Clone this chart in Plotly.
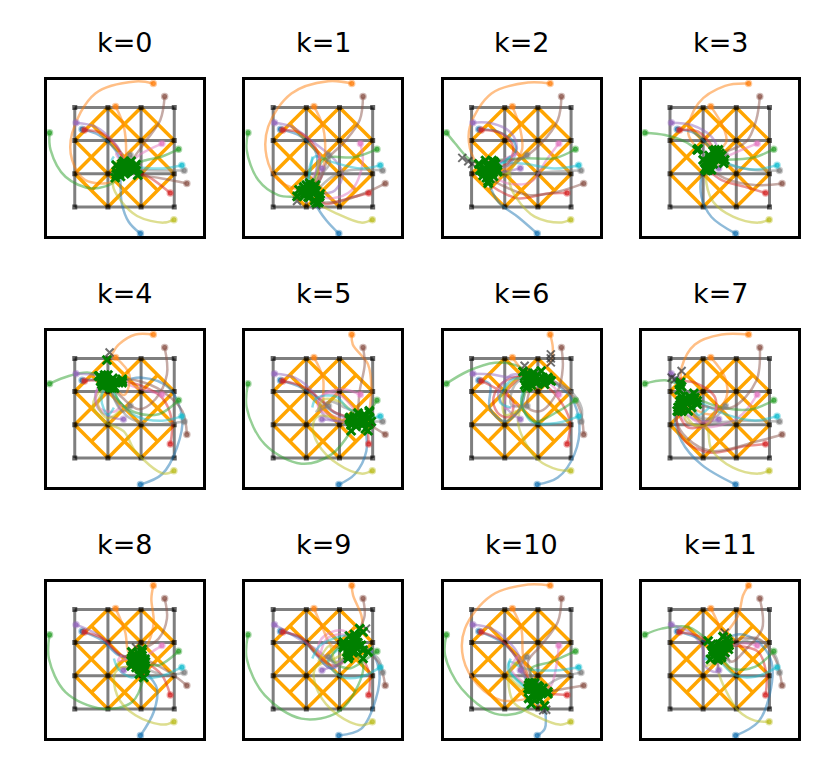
import plotly.graph_objects as go
from plotly.subplots import make_subplots

TITLES = [f"k={k}" for k in range(12)]
TAB10 = ["31,119,180", "255,127,14", "44,160,44", "214,39,40", "148,103,189",
         "140,86,75", "227,119,194", "127,127,127", "188,189,34", "23,190,207"]

START_X = [1.98, 2.37, -0.76, 2.88, 0.04, 3.38, 2.63, 3.30, 2.99, 3.23,
           0.22, 1.23, 3.13, 0.29, 1.47, 2.71, 1.42, 1.67, 1.36, 1.18]
START_Y = [-0.80, 3.72, 2.24, 0.42, 2.54, 0.71, 1.91, 1.10, -0.38, 1.26,
           2.34, 3.03, 1.74, 2.32, 1.17, 3.33, 1.62, 1.57, 1.42, 1.52]
# the start dots of the other paths do not show in the picture
DOTTED = [0, 1, 2, 3, 4, 5, 6, 7, 8, 9, 10, 11, 12, 13, 14, 15, 17]

GRID_VALUES = [0, 1, 2, 3]
ORANGE_SEGS = [
    ((0, 2), (1, 3)), ((1, 2), (0.5, 2.5)), ((1, 3), (2, 2)), ((2, 3), (1, 2)),
    ((2, 3), (3, 2)), ((2, 2), (2.5, 2.5)), ((0, 2), (1, 1)), ((1, 2), (0, 1)),
    ((1, 2), (2, 1)), ((2, 2), (1, 1)), ((2, 2), (3, 1)), ((3, 2), (2, 1)),
    ((0, 1), (1, 0)), ((1, 1), (0.5, 0.5)), ((1, 1), (2, 0)), ((2, 1), (1, 0)),
    ((2, 0), (3, 1)), ((2, 1), (2.5, 0.5)),
]

# waypoints between the start and the end of each of the 20 paths
WAYS_K0 = [
    [(1.63, -0.45), (1.42, 0.1), (1.38, 0.7)],
    [(1.83, 3.78), (0.62, 3.42), (-0.08, 2.22), (-0.08, 1.42), (0.32, 0.81), (1.12, 0.76)],
    [(-0.73, 1.72), (-0.28, 0.91), (0.52, 0.56), (1.18, 0.76)],
    [(2.23, 0.91)], [(0.62, 2.42), (1.12, 2.02), (1.42, 1.6)], [(2.63, 0.86)],
    [(2.03, 1.62)], [(2.53, 1.1)],
    [(2.68, -0.47), (1.88, -0.27), (1.38, 0.2), (1.15, 0.66)],
    [(2.63, 1.16)], [(0.72, 2.17), (1.22, 1.72)], [(1.48, 2.42), (1.55, 1.6)],
    [(2.63, 1.52), (2.1, 1.4)], [(0.82, 2.22), (1.33, 1.72)], [],
    [(2.58, 2.62), (2.13, 1.97)], [(1.25, 1.6)], [(1.72, 1.45)], [(1.25, 1.35)],
    [(1.12, 1.4)],
]
ENDS_K0 = [(1.38, 0.92), (1.3, 1.02), (1.25, 0.98), (1.78, 1.08), (1.48, 1.38),
           (1.9, 0.96), (1.55, 1.25), (1.82, 1.12), (1.22, 0.88), (1.83, 1.2),
           (1.42, 1.3), (1.52, 1.3), (1.85, 1.28), (1.46, 1.3), (1.45, 1.12),
           (1.7, 1.38), (1.6, 1.18), (1.68, 1.27), (1.35, 1.1), (1.25, 1.26)]

WAYS_K1 = [
    [(1.6, -0.4), (1.3, 0.05)],
    [(1.66, 3.79), (0.55, 3.42), (-0.15, 2.42), (-0.2, 1.52), (0.15, 0.81)],
    [(-0.8, 1.72), (-0.45, 0.81), (0.15, 0.36)],
    [(2.26, 0.26), (1.56, 0.1)],
    [(0.55, 2.42), (1.26, 1.92), (1.86, 1.42), (2.1, 1.0), (1.86, 0.5)],
    [(2.86, 0.46), (1.96, 0.16)],
    [(2.7, 1.32), (2.36, 0.5), (1.76, 0.26)],
    [(2.26, 1.1), (1.76, 0.9)],
    [(2.66, -0.47), (1.9, -0.19)],
    [(2.66, 1.16), (1.76, 1.36), (1.26, 1.52), (1.1, 1.2)],
    [(0.85, 2.12), (1.3, 1.62), (1.26, 0.9)],
    [(1.5, 2.42), (1.56, 1.52), (1.4, 0.81)],
    [(2.46, 1.5), (1.56, 1.46), (1.26, 0.9)],
    [(0.85, 2.22), (1.36, 1.62), (1.36, 0.9)],
    [(1.45, 0.9)],
    [(2.61, 2.62), (2.16, 1.97), (1.66, 1.46), (1.4, 0.81)],
    [(1.3, 1.1)], [(1.7, 1.3), (1.2, 0.7)], [(1.3, 0.9)], [(1.1, 1.0)],
]
ENDS_K1 = [(1.25, 0.2), (0.78, 0.52), (0.72, 0.32), (1.38, 0.3), (1.42, 0.4),
           (1.38, 0.14), (1.4, 0.32), (1.3, 0.48), (1.3, 0.12), (1.1, 0.72),
           (1.12, 0.62), (1.25, 0.6), (1.18, 0.58), (1.28, 0.66), (1.2, 0.46),
           (1.0, 0.66), (0.95, 0.42), (1.05, 0.3), (0.86, 0.44), (0.92, 0.6)]

WAYS_K2 = [
    [(1.4, -0.3), (0.8, 0.16)],
    [(1.7, 3.75), (0.6, 3.42), (-0.05, 2.42), (-0.05, 1.77)],
    [(-0.5, 1.92), (-0.1, 1.47)],
    [(2.3, 0.41), (1.4, 0.26), (0.8, 0.51)],
    [(0.6, 2.52), (1.2, 2.22), (1.36, 1.72), (1.05, 1.22)],
    [(2.6, 0.46), (1.7, 0.36), (0.9, 0.66)],
    [(2.26, 1.42), (1.8, 0.76), (1.1, 0.71)],
    [(2.4, 1.06), (1.5, 1.0)],
    [(2.65, -0.47), (1.9, -0.29), (1.36, 0.26), (1.15, 0.71), (1.15, 1.0)],
    [(2.5, 1.16), (1.6, 1.3)],
    [(0.8, 2.27), (1.3, 1.92), (1.3, 1.62)],
    [(1.45, 2.42), (1.52, 1.72), (1.2, 1.22)],
    [(2.5, 1.47), (1.6, 1.47)],
    [(0.9, 2.22), (1.25, 1.82), (1.1, 1.32)],
    [(1.2, 1.1)],
    [(2.6, 2.62), (2.1, 1.92), (1.5, 1.47)],
    [(1.0, 1.45)], [(1.1, 1.25)], [(1.0, 0.95)], [(0.9, 1.3)],
]
ENDS_K2 = [(0.5, 0.78), (0.25, 1.12), (0.22, 1.3), (0.5, 0.72), (0.62, 1.22),
           (0.55, 0.85), (0.66, 0.92), (0.78, 1.06), (0.62, 1.0), (0.68, 1.36),
           (0.72, 1.3), (0.78, 1.12), (0.62, 1.4), (0.55, 1.18), (0.45, 1.0),
           (0.42, 1.4), (0.35, 0.95), (0.45, 1.25), (0.3, 1.1), (0.72, 1.18)]

WAYS_K3 = [
    [(1.25, -0.3), (0.95, 0.3), (0.95, 0.92)],
    [(1.66, 3.65), (0.85, 3.12), (0.55, 2.22)],
    [(-0.15, 2.17), (0.45, 1.97)],
    [(2.26, 0.61), (1.56, 0.81)],
    [(0.65, 2.47), (1.25, 2.12)],
    [(2.56, 0.66), (1.66, 0.86)],
    [(2.16, 1.72)], [(2.46, 1.12)],
    [(2.66, -0.47), (1.9, -0.29), (1.3, 0.16), (1.1, 0.71)],
    [(2.56, 1.13), (1.86, 1.27)],
    [(0.75, 2.22)], [(1.6, 2.42), (1.7, 1.97)], [(2.55, 1.5)], [(0.85, 2.27)],
    [], [(2.6, 2.62), (2.3, 1.97)], [(1.4, 1.5)], [(1.7, 1.45)], [(1.5, 1.2)],
    [(1.1, 1.45)],
]
ENDS_K3 = [(1.05, 1.15), (0.85, 1.75), (0.82, 1.72), (1.15, 1.12), (1.46, 1.72),
           (1.25, 1.12), (1.5, 1.42), (1.62, 1.32), (1.1, 1.1), (1.46, 1.5),
           (1.3, 1.68), (1.42, 1.68), (1.65, 1.42), (1.36, 1.72), (1.3, 1.3),
           (1.5, 1.62), (1.18, 1.55), (1.56, 1.55), (1.0, 1.42), (1.12, 1.35)]

WAYS_K4 = [
    [(2.63, -0.49), (3.08, 0.31), (3.24, 1.22), (2.83, 2.12), (2.03, 2.42)],
    [(1.83, 3.72), (1.33, 3.42), (1.08, 3.07)],
    [(-0.18, 2.47), (0.42, 2.57)],
    [(2.93, 1.12), (2.63, 1.82), (2.03, 2.17)],
    [(0.47, 2.52)],
    [(3.24, 1.42), (2.63, 2.02), (1.93, 2.32)],
    [(2.03, 2.07)],
    [(2.28, 1.02), (1.63, 1.22), (1.23, 1.72)],
    [(2.68, -0.47), (1.83, 0.2), (1.48, 0.8), (0.9, 1.1), (0.55, 1.6)],
    [(2.63, 1.12), (1.83, 1.27), (1.33, 1.72)],
    [(0.5, 2.36)], [(1.65, 2.5), (1.5, 1.9)],
    [(2.53, 1.32), (1.83, 1.37), (1.33, 1.72)],
    [(0.55, 2.34)],
    [(1.2, 1.2), (0.72, 1.47), (0.62, 1.92)],
    [(2.78, 2.52), (2.43, 1.77), (1.93, 1.47), (1.43, 1.82)],
    [(1.2, 1.4), (0.75, 1.5), (0.65, 2.0)],
    [(1.45, 1.4), (1.2, 1.75)],
    [(1.0, 1.2), (0.7, 1.6)],
    [(1.0, 1.3), (0.8, 1.8)],
]
ENDS_K4 = [(1.33, 2.27), (0.97, 2.95), (0.72, 2.47), (1.43, 2.32), (0.75, 2.47),
           (1.43, 2.37), (1.43, 2.27), (1.08, 2.12), (0.85, 2.15), (1.08, 2.15),
           (0.78, 2.32), (1.2, 2.1), (1.18, 2.15), (0.82, 2.38), (0.82, 2.22),
           (1.13, 2.12), (0.9, 2.42), (1.0, 2.5), (0.95, 2.2), (1.02, 2.32)]

WAYS_K5 = [
    [(2.46, -0.49), (2.81, 0.21)],
    [(2.4, 3.42), (2.86, 2.82), (2.96, 2.12)],
    [(-0.8, 1.52), (-0.25, 0.41), (0.85, -0.17), (1.76, 0.11)],
    [], [(0.65, 2.42), (1.25, 1.92), (1.5, 1.32), (1.86, 1.12)], [],
    [(2.06, 2.07), (1.46, 1.87), (1.36, 1.52), (1.96, 1.22)], [],
    [(2.66, -0.47), (1.96, -0.19), (1.36, 0.41), (1.2, 1.0), (1.35, 1.25), (1.9, 1.2)],
    [],
    [(0.85, 2.12), (1.46, 1.72), (1.76, 1.42)],
    [(1.5, 2.42), (1.56, 1.52), (2.06, 1.12)],
    [],
    [(0.9, 2.15), (1.5, 1.7), (1.85, 1.38)],
    [(1.86, 1.12)],
    [(2.76, 2.82), (2.61, 2.02)],
    [(1.5, 1.9), (2.0, 1.9)], [(1.3, 1.4), (1.7, 1.7), (2.2, 1.5)],
    [(1.5, 1.75), (2.0, 1.7)], [(1.3, 1.8), (1.9, 1.85), (2.25, 1.5)],
]
ENDS_K5 = [(2.78, 0.88), (2.9, 1.42), (2.35, 0.82), (2.86, 0.82), (2.3, 1.15),
           (2.88, 1.02), (2.42, 1.18), (2.96, 1.1), (2.35, 1.0), (2.9, 1.2),
           (2.3, 1.2), (2.35, 1.08), (2.9, 1.38), (2.32, 1.22), (2.42, 1.05),
           (2.56, 1.35), (2.6, 1.22), (2.7, 1.26), (2.68, 1.08), (2.76, 1.3)]

WAYS_K6 = [
    [(2.6, -0.59), (3.1, 0.11), (3.25, 1.02), (3.0, 1.82)],
    [(2.45, 3.32), (2.4, 2.92)],
    [(-0.1, 2.62), (0.7, 2.87), (1.4, 2.77)],
    [(2.96, 1.12), (2.6, 1.82)],
    [(0.6, 2.52), (1.0, 2.45)],
    [(3.28, 1.42), (3.0, 1.92)],
    [(2.5, 2.12)],
    [(3.32, 1.5), (2.95, 2.05)],
    [(2.6, -0.35), (2.0, -0.05), (1.55, 0.6), (1.4, 1.1), (1.6, 1.9)],
    [(2.6, 1.06), (1.8, 1.1), (1.5, 1.8)],
    [(0.55, 2.22), (0.55, 1.5), (1.0, 1.1), (1.5, 1.55)],
    [],
    [(2.6, 1.4), (1.9, 1.1), (1.5, 1.6)],
    [(0.8, 2.05), (1.25, 1.7), (1.15, 1.25), (0.85, 1.3), (0.65, 1.7), (0.85, 2.2), (1.4, 2.45)],
    [(1.2, 1.35), (0.8, 1.9), (1.2, 2.5)],
    [(2.75, 2.72), (2.6, 2.02), (2.1, 1.42), (1.7, 1.52)],
    [(1.0, 1.5), (1.2, 2.2)],
    [(1.2, 1.6), (1.3, 2.2)],
    [(1.0, 1.3), (1.0, 2.0), (1.4, 2.4)],
    [(0.85, 1.7), (1.2, 2.35)],
]
ENDS_K6 = [(2.4, 2.32), (2.1, 2.62), (1.7, 2.55), (2.2, 2.22), (1.6, 2.45),
           (2.3, 2.42), (2.2, 2.32), (2.35, 2.35), (1.7, 2.15), (1.7, 2.25),
           (1.6, 2.2), (1.55, 2.6), (1.65, 2.12), (1.7, 2.4), (1.7, 2.45),
           (1.8, 2.2), (1.75, 2.5), (1.85, 2.55), (2.0, 2.3), (1.82, 2.38)]

WAYS_K7 = [
    [(0.95, -0.2), (0.35, 0.51), (0.15, 1.32)],
    [(1.56, 3.72), (0.75, 3.42), (0.35, 2.72)],
    [(-0.15, 2.34)],
    [(2.26, 0.36), (1.25, 0.16), (0.45, 0.51), (0.2, 1.12)],
    [],
    [(2.66, 0.51), (1.25, 0.21), (0.5, 0.61), (0.2, 1.12)],
    [(2.06, 1.22), (1.05, 0.92), (0.45, 1.12)],
    [(2.26, 1.12), (1.05, 1.12)],
    [(2.66, -0.47), (1.9, -0.29), (1.25, 0.26), (1.1, 0.92), (0.75, 0.97)],
    [(2.56, 1.13), (1.66, 1.32)],
    [],
    [(1.66, 2.42), (1.7, 1.82), (1.25, 1.32)],
    [(2.46, 1.47), (1.56, 1.52)],
    [(0.75, 2.27), (1.36, 1.82), (1.25, 1.12), (0.55, 0.92)],
    [(0.85, 1.12)],
    [(2.6, 2.32), (1.86, 1.52)],
    [(1.2, 1.1), (0.7, 1.15)], [(1.3, 1.2), (0.8, 1.3)], [(1.1, 1.0), (0.5, 1.1)],
    [(0.85, 1.3)],
]
ENDS_K7 = [(0.3, 1.6), (0.35, 2.15), (0.3, 2.2), (0.25, 1.52), (0.32, 2.28),
           (0.25, 1.4), (0.25, 1.52), (0.55, 1.42), (0.35, 1.5), (0.82, 1.72),
           (0.28, 2.05), (0.65, 1.52), (0.75, 1.82), (0.22, 1.42), (0.35, 1.42),
           (0.82, 1.62), (0.5, 1.75), (0.72, 1.95), (0.45, 1.55), (0.7, 1.7)]

WAYS_K8 = [
    [(2.38, -0.09), (2.48, 0.61)],
    [(2.31, 3.32), (2.38, 2.62), (2.23, 2.02)],
    [(-0.78, 1.52), (-0.28, 0.51), (0.82, 0.01), (1.73, 0.21)],
    [(2.63, 1.02)], [(0.72, 2.22), (1.23, 1.72)], [(2.83, 1.12)], [(2.33, 1.72)],
    [(2.73, 1.02)],
    [(2.68, -0.47), (1.83, -0.19), (1.28, 0.41), (1.23, 1.12)],
    [(2.53, 0.97), (2.03, 0.97)],
    [(0.82, 2.07), (1.33, 1.62)], [(1.52, 2.32), (1.62, 1.72)], [(2.53, 1.32)],
    [(0.85, 2.12), (1.36, 1.65)], [], [(2.78, 2.72), (2.53, 2.12)],
    [(1.3, 1.45)], [(1.72, 1.3)], [(1.25, 1.3)], [(1.32, 1.2), (1.72, 0.95)],
]
ENDS_K8 = [(2.1, 1.15), (2.03, 1.72), (2.08, 0.95), (2.13, 1.42), (1.7, 1.45),
           (2.12, 1.5), (2.03, 1.47), (2.13, 1.22), (1.7, 1.3), (2.03, 1.2),
           (1.75, 1.6), (1.72, 1.72), (2.1, 1.38), (1.75, 1.52), (1.75, 1.35),
           (2.03, 1.8), (1.85, 1.62), (1.95, 1.6), (1.85, 1.25), (1.95, 1.05)]

WAYS_K9 = [
    [(2.66, -0.59), (3.1, 0.31), (3.2, 1.12), (2.96, 1.72)],
    [(2.41, 3.42), (2.66, 2.82)],
    [(-0.8, 1.52), (-0.25, 0.41), (0.85, -0.29), (1.96, -0.09), (2.56, 0.71), (2.71, 1.32)],
    [(2.91, 1.02)],
    [(1.26, 1.82), (1.86, 1.42)],
    [(3.17, 1.42)],
    [(2.06, 2.37), (1.46, 2.12), (1.36, 1.62), (1.76, 1.22)],
    [(3.17, 1.52)],
    [(2.66, -0.49), (1.96, -0.19), (1.36, 0.51), (1.26, 1.22), (1.86, 1.52)],
    [(2.66, 0.97), (2.06, 0.97), (1.66, 1.42)],
    [(0.85, 2.12), (1.3, 1.62), (1.76, 1.22)],
    [(1.5, 2.42), (1.75, 1.92)],
    [(2.76, 1.47), (2.26, 1.22), (1.76, 1.52)],
    [(0.85, 2.15), (1.36, 1.6), (1.85, 1.3)],
    [(2.06, 1.42)],
    [(2.76, 2.82)],
    [(1.6, 2.1), (2.0, 2.25)], [(1.95, 1.3)], [(1.7, 1.9), (1.9, 1.4)], [(1.4, 1.9), (1.9, 2.15)],
]
ENDS_K9 = [(2.66, 1.92), (2.71, 2.32), (2.4, 1.7), (2.71, 1.52), (2.26, 1.62),
           (2.71, 1.77), (2.26, 1.52), (2.86, 1.72), (2.22, 1.72), (2.12, 1.92),
           (2.26, 1.7), (2.12, 1.85), (2.12, 2.02), (2.3, 1.6), (2.36, 1.82),
           (2.61, 2.42), (2.3, 2.2), (2.5, 2.1), (2.42, 1.95), (2.45, 2.25)]

WAYS_K10 = [
    [(2.21, -0.59)],
    [(1.7, 3.75), (0.6, 3.42), (-0.2, 2.42), (-0.25, 1.52), (0.2, 0.71), (0.9, 0.26)],
    [(-0.8, 1.62), (-0.3, 0.61), (0.7, -0.14), (1.5, -0.09)],
    [],
    [(0.6, 2.42), (1.3, 1.82), (1.6, 1.22)],
    [(2.8, 0.61)],
    [(2.56, 1.32), (2.4, 0.71)],
    [(2.6, 0.91)],
    [(2.65, -0.47), (1.9, -0.19), (1.3, 0.16), (1.15, 0.51), (1.15, 1.0)],
    [(2.5, 1.16), (1.6, 1.22), (1.15, 1.42), (1.2, 1.1)],
    [(0.9, 2.02), (1.3, 1.62)],
    [(1.5, 2.42), (1.55, 1.62)],
    [(2.4, 1.42), (1.8, 1.22)],
    [(0.92, 2.05), (1.35, 1.55)],
    [],
    [(2.6, 2.62), (2.1, 1.92), (1.7, 1.42)],
    [(1.2, 1.2)], [(1.45, 1.2)], [(1.15, 1.0)], [(1.1, 1.2)],
]
ENDS_K10 = [(2.2, 0.1), (1.72, 0.32), (1.8, 0.15), (2.3, 0.46), (1.82, 0.78),
            (2.3, 0.52), (2.15, 0.5), (2.15, 0.62), (1.7, 0.62), (1.75, 0.58),
            (1.72, 0.72), (1.75, 0.78), (1.85, 0.72), (1.78, 0.7), (1.82, 0.6),
            (1.9, 0.78), (1.95, 0.55), (2.0, 0.7), (2.05, 0.3), (1.9, 0.4)]

WAYS_K11 = [
    [(2.66, -0.39), (3.0, 0.41), (3.06, 1.42), (2.66, 2.02), (2.1, 2.25)],
    [(2.2, 3.42), (2.06, 2.82)],
    [(-0.25, 2.42), (0.55, 2.47)],
    [(2.91, 1.02), (2.66, 1.72)],
    [(0.62, 2.3), (1.0, 1.8), (1.05, 1.3), (1.4, 1.12)],
    [(3.17, 1.52), (2.66, 2.12)],
    [(2.25, 1.98)],
    [(3.17, 1.62), (2.56, 2.12)],
    [(2.56, -0.35), (2.06, -0.05), (1.66, 0.61), (1.46, 1.12)],
    [(2.56, 0.97), (1.96, 1.02)],
    [(0.75, 2.17)],
    [(1.5, 2.42), (1.56, 1.77), (1.25, 1.42)],
    [(2.56, 1.27), (1.86, 1.22)],
    [(0.85, 2.2)],
    [],
    [(2.78, 2.42), (2.31, 1.82), (1.86, 1.42)],
    [(1.15, 1.5)], [(1.8, 1.4)], [(1.1, 1.3)], [(1.05, 1.5)],
]
ENDS_K11 = [(1.72, 2.12), (1.6, 2.18), (1.15, 2.05), (1.78, 1.92), (1.45, 1.48),
            (1.75, 2.02), (1.72, 1.85), (1.76, 1.8), (1.46, 1.5), (1.46, 1.52),
            (1.3, 1.87), (1.22, 1.5), (1.56, 1.62), (1.25, 1.95), (1.4, 1.52),
            (1.66, 1.7), (1.35, 1.75), (1.55, 1.95), (1.3, 1.6), (1.28, 1.7)]

ALL_WAYS = [WAYS_K0, WAYS_K1, WAYS_K2, WAYS_K3, WAYS_K4, WAYS_K5,
            WAYS_K6, WAYS_K7, WAYS_K8, WAYS_K9, WAYS_K10, WAYS_K11]
ALL_ENDS = [ENDS_K0, ENDS_K1, ENDS_K2, ENDS_K3, ENDS_K4, ENDS_K5,
            ENDS_K6, ENDS_K7, ENDS_K8, ENDS_K9, ENDS_K10, ENDS_K11]

# more green crosses inside each cluster, which reads as a solid blob
FILLS = [
    [(1.5, 1.15), (1.4, 1.2), (1.6, 1.1), (1.55, 1.05), (1.7, 1.15), (1.35, 1.0), (1.62, 1.25), (1.5, 1.0)],
    [(1.1, 0.46), (1.0, 0.5), (1.2, 0.4), (1.1, 0.3), (1.25, 0.5), (0.95, 0.35), (1.15, 0.55), (1.05, 0.42), (0.88, 0.5)],
    [(0.5, 1.07), (0.4, 1.15), (0.6, 1.1), (0.5, 0.95), (0.55, 1.25), (0.35, 1.05), (0.65, 1.05), (0.45, 0.88)],
    [(1.2, 1.47), (1.3, 1.5), (1.4, 1.45), (1.25, 1.35), (1.2, 1.25), (1.1, 1.2), (1.35, 1.6), (1.45, 1.55)],
    [(1.0, 2.32), (0.9, 2.3), (1.1, 2.3), (0.95, 2.4), (1.05, 2.22), (0.85, 2.2), (1.2, 2.3), (1.15, 2.4), (0.8, 2.3), (0.9, 2.5)],
    [(2.5, 1.1), (2.6, 1.1), (2.7, 1.15), (2.8, 1.1), (2.5, 0.95), (2.7, 1.0), (2.45, 1.25), (2.85, 1.2)],
    [(1.9, 2.38), (1.8, 2.3), (1.95, 2.45), (1.75, 2.35), (2.05, 2.38), (2.15, 2.42), (1.85, 2.45), (1.95, 2.25), (2.25, 2.38)],
    [(0.35, 1.75), (0.6, 1.75), (0.3, 1.7), (0.5, 1.65), (0.7, 1.8), (0.4, 1.6), (0.6, 1.85), (0.35, 1.85)],
    [(1.87, 1.5), (1.8, 1.4), (1.95, 1.4), (1.9, 1.3), (1.85, 1.55), (1.98, 1.5), (1.9, 1.7), (1.95, 1.2)],
    [(2.42, 1.95), (2.35, 1.9), (2.5, 1.85), (2.4, 2.05), (2.55, 2.0), (2.3, 2.0), (2.45, 1.75), (2.6, 1.9), (2.3, 1.85), (2.5, 2.2)],
    [(1.97, 0.55), (1.9, 0.5), (2.05, 0.5), (1.95, 0.62), (1.85, 0.6), (2.05, 0.65), (2.0, 0.42), (1.9, 0.3)],
    [(1.48, 1.78), (1.4, 1.7), (1.55, 1.85), (1.45, 1.6), (1.6, 1.75), (1.35, 1.85), (1.5, 1.95), (1.65, 1.85), (1.3, 1.78), (1.55, 1.55)],
]

# gray crosses that sit apart from the green cluster
GHOSTS = {
    1: [(0.72, 0.18), (1.3, 0.05)],
    2: [(-0.28, 1.48), (-0.1, 1.38), (0.02, 1.3)],
    3: [(0.85, 1.72)],
    4: [(1.05, 3.18)],
    5: [(2.92, 1.4)],
    6: [(2.39, 3.12), (2.39, 3.0), (2.39, 2.88), (1.6, 2.78)],
    7: [(0.35, 2.62), (0.05, 2.42), (0.15, 2.37)],
    8: [(1.85, 1.85)],
    9: [(2.8, 2.42)],
    10: [(2.16, -0.04), (2.25, -0.02)],
    11: [(1.65, 2.3)],
}

fig = make_subplots(rows=3, cols=4, horizontal_spacing=42.7 / 752, vertical_spacing=95 / 658)

for k in range(12):
    row, col = k // 4 + 1, k % 4 + 1
    ox, oy = [], []
    for a, b in ORANGE_SEGS:
        ox += [a[0], b[0], None]
        oy += [a[1], b[1], None]
    fig.add_trace(go.Scatter(x=ox, y=oy, mode="lines",
                             line=dict(color="#ffa500", width=3.5)), row=row, col=col)
    gx, gy = [], []
    for v in GRID_VALUES:
        gx += [v, v, None, GRID_VALUES[0], GRID_VALUES[-1], None]
        gy += [GRID_VALUES[0], GRID_VALUES[-1], None, v, v, None]
    fig.add_trace(go.Scatter(x=gx, y=gy, mode="lines",
                             line=dict(color="rgba(0,0,0,0.5)", width=3)), row=row, col=col)
    fig.add_trace(go.Scatter(x=[i for i in GRID_VALUES for j in GRID_VALUES],
                             y=[j for i in GRID_VALUES for j in GRID_VALUES], mode="markers",
                             marker=dict(symbol="square", size=5, color="rgba(0,0,0,0.6)")),
                  row=row, col=col)
    for i in range(20):
        pts = ALL_WAYS[k][i] + [ALL_ENDS[k][i]]
        fig.add_trace(go.Scatter(
            x=[START_X[i]] + [p[0] for p in pts],
            y=[START_Y[i]] + [p[1] for p in pts],
            mode="lines",
            line=dict(color=f"rgba({TAB10[i % 10]},0.5)", width=2.5, shape="spline", smoothing=1),
        ), row=row, col=col)
    fig.add_trace(go.Scatter(
        x=[START_X[i] for i in DOTTED], y=[START_Y[i] for i in DOTTED], mode="markers",
        marker=dict(size=5, color=[f"rgba({TAB10[i % 10]},0.8)" for i in DOTTED],
                    line=dict(width=2.5, color=[f"rgba({TAB10[i % 10]},0.4)" for i in DOTTED])),
    ), row=row, col=col)
    if k in GHOSTS:
        fig.add_trace(go.Scatter(
            x=[p[0] for p in GHOSTS[k]], y=[p[1] for p in GHOSTS[k]], mode="markers",
            marker=dict(symbol="x-thin", size=8, line=dict(width=2, color="rgba(50,50,50,0.7)")),
        ), row=row, col=col)
    crosses = ALL_ENDS[k] + FILLS[k]
    fig.add_trace(go.Scatter(
        x=[p[0] for p in crosses], y=[p[1] for p in crosses], mode="markers",
        marker=dict(symbol="x-thin", size=8.5, line=dict(width=3, color="#008000")),
    ), row=row, col=col)
    # title of each panel sits above its box
    axis_x = fig.layout[f"xaxis{k + 1 if k else ''}"].domain
    axis_y = fig.layout[f"yaxis{k + 1 if k else ''}"].domain
    fig.add_annotation(text=TITLES[k], xref="paper", yref="paper", xanchor="center",
                       x=sum(axis_x) / 2, y=axis_y[1], yanchor="bottom", yshift=20,
                       showarrow=False, font=dict(size=27, color="black", family="DejaVu Sans"))

fig.update_xaxes(range=[-0.837, 3.86], showgrid=False, zeroline=False, showticklabels=False,
                 ticks="", showline=True, mirror=True, linecolor="black", linewidth=3)
fig.update_yaxes(range=[-0.873, 3.825], showgrid=False, zeroline=False, showticklabels=False,
                 ticks="", showline=True, mirror=True, linecolor="black", linewidth=3)
fig.update_layout(width=830, height=783, showlegend=False, plot_bgcolor="white",
                  paper_bgcolor="white", margin=dict(l=38.5, r=39.5, t=72, b=53), hovermode=False)
fig.write_html("out.html")
